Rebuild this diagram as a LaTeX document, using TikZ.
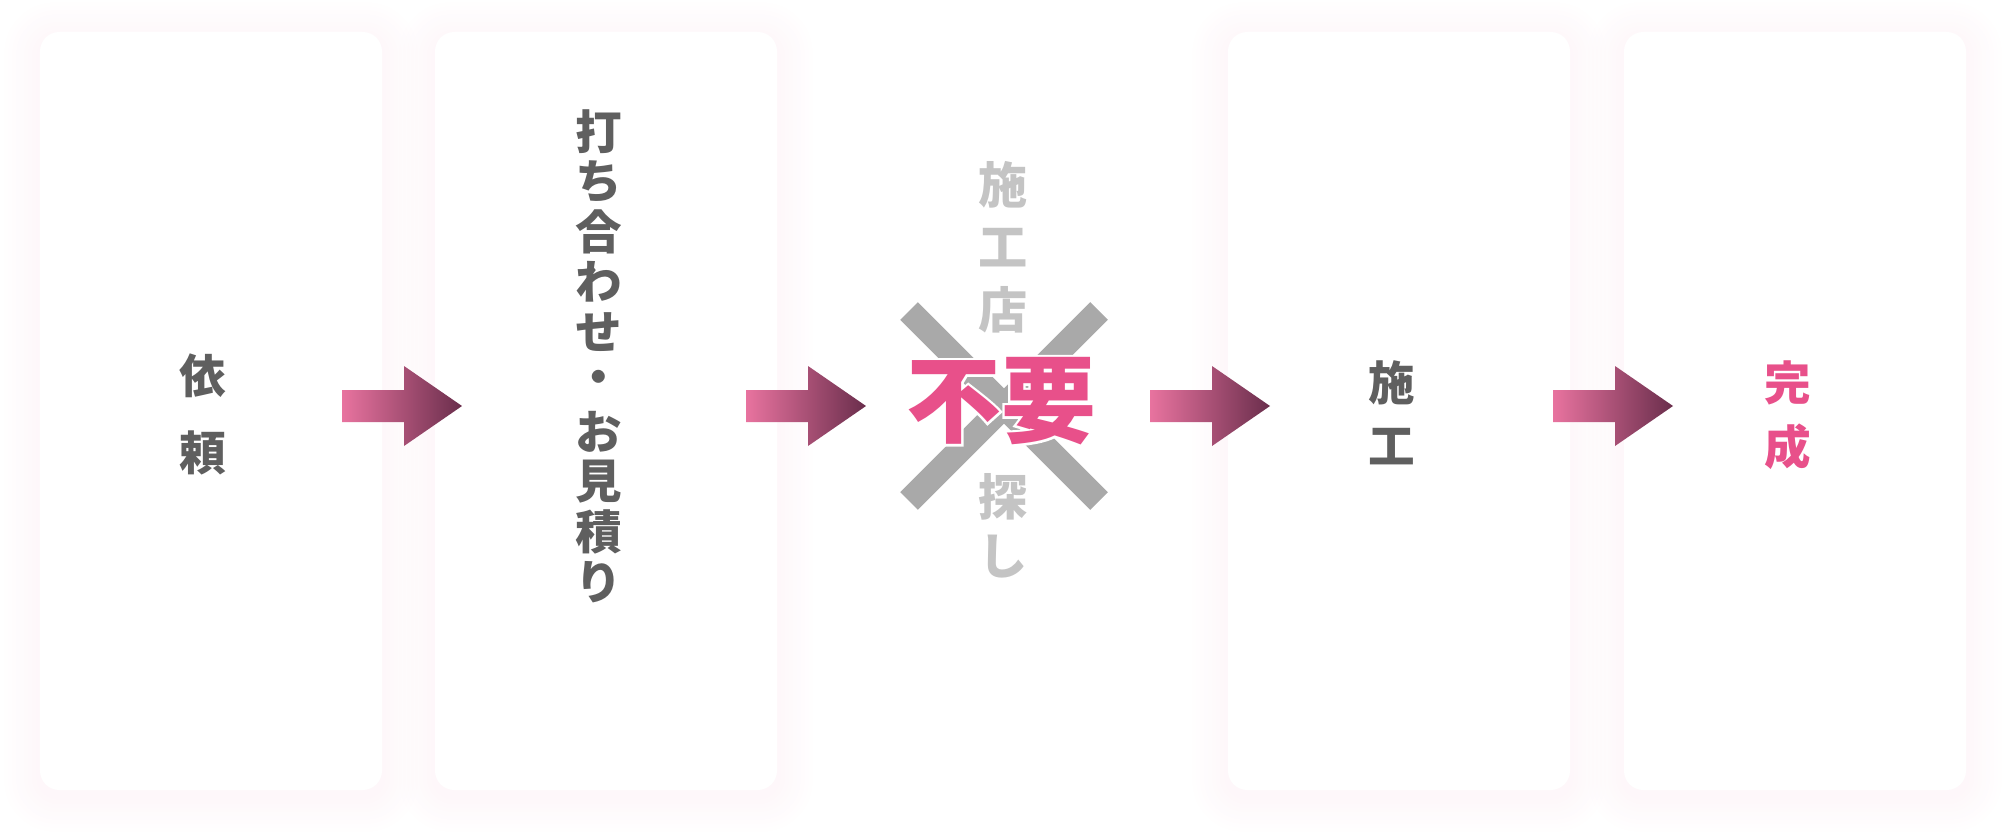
\documentclass[tikz,border=0pt]{standalone}
\usepackage{fontspec}
\newfontfamily\jpfont{Noto Sans CJK JP}
\newfontfamily\jpoutline[FakeBold=5]{Noto Sans CJK JP}
\usetikzlibrary{calc}
\definecolor{inkgray}{HTML}{5F5F5F}
\definecolor{palegray}{HTML}{C4C4C4}
\definecolor{crossgray}{HTML}{A9A9A9}
\definecolor{accent}{HTML}{E8508A}
\definecolor{arrowlight}{HTML}{E8739F}
\definecolor{arrowdark}{HTML}{6A2E4C}
\definecolor{glow}{HTML}{EE8FB2}
\def\stepcard{\node[fill=white,rounded corners=11pt,minimum width=68.4mm,minimum height=151.6mm,inner sep=0pt]}
\def\steptext{\node[text=inkgray,font=\jpfont\bfseries\fontsize{26.5}{30}\selectfont,inner sep=0pt]}
\def\drawglow#1{\foreach \g in {1,...,9}{\fill[glow,opacity=0.008,rounded corners={11pt+\g*2pt}] ($(#1)+(-171-\g*4,-379-\g*4+6)$) rectangle ($(#1)+(171+\g*4,379+\g*4+6)$);}}
\def\drawflow#1{\shade[left color=arrowlight,right color=arrowdark] ($(#1)+(0,-16)$) -- ++(62,0) -- ++(0,-24) -- ++(58,40) -- ++(-58,40) -- ++(0,-24) -- ++(-62,0) -- cycle;}

\begin{document}
\begin{tikzpicture}[x=0.2mm,y=-0.2mm]
\useasboundingbox (0,0) rectangle (2006,838);
\coordinate (c1) at (211,411);
\coordinate (c2) at (606,411);
\coordinate (c4) at (1399,411);
\coordinate (c5) at (1795,411);

% soft pink glow under each card
\drawglow{c1} \drawglow{c2} \drawglow{c4} \drawglow{c5}
\stepcard (card1) at (c1) {};
\stepcard (card2) at (c2) {};
\stepcard (card4) at (c4) {};
\stepcard (card5) at (c5) {};

% card texts, one character per line
\steptext (irai1) at (203,376) {依};
\steptext (irai2) at (203,453) {頼};
\foreach \c [count=\i] in {打,ち,合,わ,せ,・,お,見,積,り}
  \steptext (meet\i) at (599,132+50*\i-50) {\c};
\steptext (sekou1) at (1392,383) {施};
\steptext (sekou2) at (1392,447) {工};
\steptext[text=accent] (kansei1) at (1788,383) {完};
\steptext[text=accent] (kansei2) at (1788,447) {成};

% the step that is no longer needed
\coordinate (x) at (1004,406);
\foreach \c/\y [count=\i] in {施/185,工/248,店/310,探/497,し/557}
  \steptext[text=palegray,font=\jpfont\bfseries\fontsize{28}{30}\selectfont] (search\i) at (1003,\y) {\c};
\draw[crossgray,line width=5mm] ($(x)+(-95,-95)$) -- ($(x)+(95,95)$);
\draw[crossgray,line width=5mm] ($(x)+(95,-95)$) -- ($(x)+(-95,95)$);
\node[text=white,font=\jpoutline\bfseries\fontsize{54}{60}\selectfont,inner sep=0pt] (halo) at (1001,401) {不要};
\node[text=accent,font=\jpfont\bfseries\fontsize{54}{60}\selectfont,inner sep=0pt] (fuyou) at (halo) {不要};

% arrows between the steps
\coordinate (a1) at (342,406);
\coordinate (a2) at (746,406);
\coordinate (a3) at (1150,406);
\coordinate (a4) at (1553,406);
\drawflow{a1} \drawflow{a2} \drawflow{a3} \drawflow{a4}
\end{tikzpicture}
\end{document}
